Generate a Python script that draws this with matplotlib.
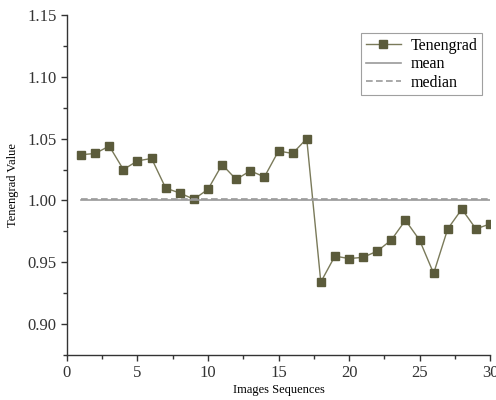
import numpy as np
import matplotlib
matplotlib.use("Agg")
import matplotlib.pyplot as plt
from matplotlib.ticker import MultipleLocator

# Tenengrad values
seq = list(range(1, 31))
tenengrad = [1.037, 1.038, 1.044, 1.025, 1.032, 1.034, 1.010, 1.006, 1.001, 1.009,
             1.029, 1.017, 1.024, 1.019, 1.040, 1.038, 1.050, 0.934, 0.955, 0.953,
             0.954, 0.959, 0.968, 0.984, 0.968, 0.941, 0.977, 0.993, 0.977, 0.981]
mean_val = 1.000
median_val = 1.001

plt.rcParams['font.family'] = ['Liberation Serif', 'DejaVu Serif']

fig = plt.figure(figsize=(4.96, 4.0), dpi=100)
ax = fig.add_axes([0.135, 0.1125, 0.853, 0.85])

ax.plot(seq, tenengrad, color='#7a7a5a', lw=1.0, marker='s', ms=6,
        mfc='#5b5b3b', mec='#5b5b3b', label='Tenengrad')
ax.plot([seq[0], seq[-1]], [mean_val, mean_val], color='#9a9a9a', lw=1.2, label='mean')
ax.plot([seq[0], seq[-1]], [median_val, median_val], color='#9a9a9a', lw=1.2,
        ls='--', dashes=(4, 2), label='median')

ax.set_xlim(0, 30)
ax.set_ylim(0.875, 1.15)
ax.xaxis.set_major_locator(MultipleLocator(5))
ax.xaxis.set_minor_locator(MultipleLocator(2.5))
ax.yaxis.set_major_locator(MultipleLocator(0.05))
ax.yaxis.set_minor_locator(MultipleLocator(0.025))
ax.yaxis.set_major_formatter(matplotlib.ticker.FormatStrFormatter('%.2f'))

for s in ['top', 'right']:
    ax.spines[s].set_visible(False)
for s in ['left', 'bottom']:
    ax.spines[s].set_color('#333333')
    ax.spines[s].set_linewidth(1.0)

ax.tick_params(which='major', length=4, width=1, colors='#333333', labelsize=12)
ax.tick_params(which='minor', length=3, width=1, colors='#333333')
ax.tick_params(axis='both', labelcolor='#333333')

ax.set_xlabel('Images Sequences', fontsize=9, labelpad=2)
ax.set_ylabel('Tenengrad Value', fontsize=9, labelpad=6)

leg = ax.legend(loc='upper right', bbox_to_anchor=(0.981, 0.947), borderaxespad=0,
                fontsize=11.5, frameon=True, fancybox=False, edgecolor='#888888',
                handlelength=2.2, handletextpad=0.6, borderpad=0.3, labelspacing=0.15)
leg.get_frame().set_linewidth(0.8)

fig.savefig('out.png', dpi=100)
